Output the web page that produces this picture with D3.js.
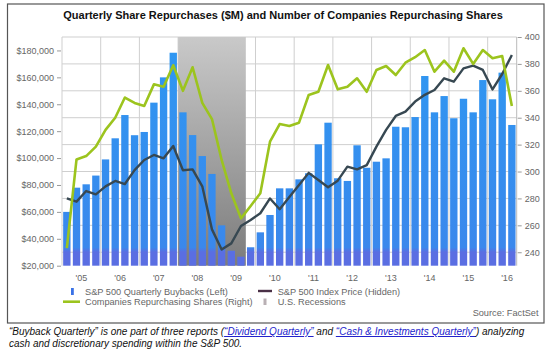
<!DOCTYPE html>
<html>
<head>
<meta charset="utf-8">
<script src="https://cdn.jsdelivr.net/npm/d3@7"></script>
<style>
  body { margin: 0; background: #fff; }
  svg { display: block; font-family: Arial, "Liberation Sans", sans-serif; }
</style>
</head>
<body>
<div id="chart"></div>
<script>
// Quarterly data, Q4 2004 - Q2 2016
const quarters = [
  "Q4 04",
  "Q1 05", "Q2 05", "Q3 05", "Q4 05", "Q1 06", "Q2 06", "Q3 06", "Q4 06",
  "Q1 07", "Q2 07", "Q3 07", "Q4 07", "Q1 08", "Q2 08", "Q3 08", "Q4 08",
  "Q1 09", "Q2 09", "Q3 09", "Q4 09", "Q1 10", "Q2 10", "Q3 10", "Q4 10",
  "Q1 11", "Q2 11", "Q3 11", "Q4 11", "Q1 12", "Q2 12", "Q3 12", "Q4 12",
  "Q1 13", "Q2 13", "Q3 13", "Q4 13", "Q1 14", "Q2 14", "Q3 14", "Q4 14",
  "Q1 15", "Q2 15", "Q3 15", "Q4 15", "Q1 16", "Q2 16"
];

// S&P 500 quarterly buybacks ($M), left axis
const buybacks = [
  60000,
  78000, 80500, 87000, 99000, 114700, 132000, 117000, 119400,
  141200, 160000, 178300, 134000, 117100, 101500, 88200, 50000,
  31100, 26700, 33700, 44800, 57700, 77500, 77500, 84200,
  88700, 110200, 126300, 85000, 83000, 109500, 92800, 97300,
  99800, 123300, 122900, 130500, 161000, 134000, 146100, 129600,
  144100, 134000, 158000, 143700, 163500, 124600
];

// number of companies repurchasing shares, right axis
const companies = [
  243,
  309, 311.5, 318.5, 331, 340, 355, 351, 348.7,
  364.8, 363, 379, 360, 377.5, 351, 339, 308.6,
  283.8, 265.2, 274.4, 283.8, 322.2, 335.3, 333.8, 336.3,
  356.9, 359.3, 379.2, 361.1, 363, 369.3, 359.3, 375.5,
  378.4, 371.7, 380.9, 385, 390.3, 374.2, 382.4, 374.2,
  391.6, 380, 390.3, 384.2, 385.9, 348.7
];

// S&P 500 index price (hidden scale), drawn against the right axis
const indexPrice = [
  280,
  277.6, 285.5, 283, 289, 293, 290.7, 301, 308.6,
  312.3, 309.8, 319, 301, 301.6, 289, 257, 242,
  246.6, 259.5, 264, 269, 280, 272, 281, 290,
  299, 293.7, 288.3, 293.2, 303.6, 301.6, 304.8, 318.5,
  331, 341.3, 344.5, 352, 357, 360.6, 369.3, 366.8,
  376.7, 378.7, 375.5, 361, 372.5, 386.6
];

const yearLabels = ["'05", "'06", "'07", "'08", "'09", "'10", "'11", "'12", "'13", "'14", "'15", "'16"];
const recessions = [{ start: "Q4 07", end: "Q2 09" }];
const leftTicks = [20000, 40000, 60000, 80000, 100000, 120000, 140000, 160000, 180000];
const rightTicks = [240, 260, 280, 300, 320, 340, 360, 380, 400];

const W = 550, H = 351;
const plot = { left: 62, top: 37, right: 516.7, bottom: 265.7 };

const svg = d3.select("#chart").append("svg")
  .attr("width", W)
  .attr("height", H);

const defs = svg.append("defs");

const barGrad = defs.append("linearGradient")
  .attr("id", "barGrad")
  .attr("gradientUnits", "userSpaceOnUse")
  .attr("x1", 0).attr("y1", plot.top).attr("x2", 0).attr("y2", plot.bottom);
barGrad.append("stop").attr("offset", "0%").attr("stop-color", "#2e98f2");
barGrad.append("stop").attr("offset", "92%").attr("stop-color", "#3a88ec");
barGrad.append("stop").attr("offset", "94%").attr("stop-color", "#5a6ee2");
barGrad.append("stop").attr("offset", "100%").attr("stop-color", "#5a6ee2");

const recGrad = defs.append("linearGradient")
  .attr("id", "recGrad")
  .attr("x1", 0).attr("y1", 0).attr("x2", 0).attr("y2", 1);
recGrad.append("stop").attr("offset", "0%").attr("stop-color", "#c9c9c9");
recGrad.append("stop").attr("offset", "100%").attr("stop-color", "#7c7c7c");

// Outer frame
svg.append("rect")
  .attr("x", 7.5).attr("y", 4)
  .attr("width", 536.5).attr("height", 319)
  .attr("fill", "#fff")
  .attr("stroke", "#555")
  .attr("stroke-width", 1.2);

// Title
svg.append("text")
  .attr("x", 283)
  .attr("y", 19)
  .attr("text-anchor", "middle")
  .style("font-size", "11px")
  .style("font-weight", "bold")
  .attr("fill", "#111")
  .text("Quarterly Share Repurchases ($M) and Number of Companies Repurchasing Shares");

// Scales
const x = d3.scaleBand()
  .domain(quarters)
  .range([plot.left, plot.right])
  .paddingInner(0.24)
  .paddingOuter(0.12);

const cellLeft = q => x(q) - x.step() * x.paddingInner() / 2;
const mid = q => x(q) + x.bandwidth() / 2;

const yL = d3.scaleLinear()
  .domain([20000, 190000])
  .range([plot.bottom, plot.top]);

const yR = d3.scaleLinear()
  .domain([230, 400])
  .range([plot.bottom, plot.top]);

// Plot background and grid
svg.append("rect")
  .attr("x", plot.left).attr("y", plot.top)
  .attr("width", plot.right - plot.left)
  .attr("height", plot.bottom - plot.top)
  .attr("fill", "#fff");

svg.append("g")
  .selectAll("line")
  .data(rightTicks)
  .join("line")
  .attr("x1", plot.left).attr("x2", plot.right)
  .attr("y1", d => yR(d)).attr("y2", d => yR(d))
  .attr("stroke", "#cfcfcf")
  .attr("stroke-width", 1);

const yearStarts = quarters.filter((q, i) => i % 4 === 0);

svg.append("g")
  .selectAll("line")
  .data(yearStarts)
  .join("line")
  .attr("x1", d => cellLeft(d)).attr("x2", d => cellLeft(d))
  .attr("y1", plot.top).attr("y2", plot.bottom)
  .attr("stroke", "#cfcfcf")
  .attr("stroke-width", 1);

svg.append("line")
  .attr("x1", plot.right).attr("x2", plot.right)
  .attr("y1", plot.top).attr("y2", plot.bottom)
  .attr("stroke", "#bbb");

// Recessions
svg.append("g")
  .selectAll("rect")
  .data(recessions)
  .join("rect")
  .attr("x", d => cellLeft(d.start))
  .attr("y", plot.top)
  .attr("width", d => cellLeft(d.end) + x.step() - cellLeft(d.start))
  .attr("height", plot.bottom - plot.top)
  .attr("fill", "url(#recGrad)");

// Bars
svg.append("g")
  .selectAll("rect")
  .data(buybacks)
  .join("rect")
  .attr("x", (d, i) => x(quarters[i]))
  .attr("y", d => yL(d))
  .attr("width", x.bandwidth())
  .attr("height", d => plot.bottom - yL(d))
  .attr("fill", "url(#barGrad)");

// Lines
const lineR = d3.line()
  .x((d, i) => mid(quarters[i]))
  .y(d => yR(d));

svg.append("path")
  .datum(indexPrice)
  .attr("d", lineR)
  .attr("fill", "none")
  .attr("stroke", "#374852")
  .attr("stroke-width", 2.4)
  .attr("stroke-linejoin", "round");

svg.append("path")
  .datum(companies)
  .attr("d", lineR)
  .attr("fill", "none")
  .attr("stroke", "#9cc41e")
  .attr("stroke-width", 2.6)
  .attr("stroke-linejoin", "round");

// Axes
const leftAxis = svg.append("g")
  .attr("transform", `translate(${plot.left - 1},0)`)
  .call(d3.axisLeft(yL).tickValues(leftTicks).tickFormat(d3.format("$,")).tickSize(4).tickPadding(3));
leftAxis.select(".domain").remove();

const rightAxis = svg.append("g")
  .attr("transform", `translate(${plot.right + 1},0)`)
  .call(d3.axisRight(yR).tickValues(rightTicks).tickSize(4).tickPadding(3));
rightAxis.select(".domain").remove();

[leftAxis, rightAxis].forEach(a => {
  a.selectAll("text")
    .style("font-size", "9px")
    .style("font-family", "Arial, 'Liberation Sans', sans-serif")
    .attr("fill", "#666");
  a.selectAll(".tick line").attr("stroke", "#999");
});

svg.append("g")
  .selectAll("text")
  .data(yearLabels)
  .join("text")
  .attr("x", (d, i) => cellLeft(quarters[i * 4]) + x.step() * 2)
  .attr("y", 281)
  .attr("text-anchor", "middle")
  .style("font-size", "9px")
  .attr("fill", "#666")
  .text(d => d);

// Legend
const legend = svg.append("g").style("font-size", "9.2px").attr("fill", "#666");

legend.append("rect")
  .attr("x", 71).attr("y", 288)
  .attr("width", 2.8).attr("height", 7)
  .attr("fill", "#3a72e6");
legend.append("text").attr("x", 85).attr("y", 294.5).text("S&P 500 Quarterly Buybacks (Left)");

legend.append("line")
  .attr("x1", 63).attr("x2", 80).attr("y1", 301.7).attr("y2", 301.7)
  .attr("stroke", "#9cc41e").attr("stroke-width", 2.6);
legend.append("text").attr("x", 85).attr("y", 305).text("Companies Repurchasing Shares (Right)");

legend.append("line")
  .attr("x1", 258).attr("x2", 272).attr("y1", 291).attr("y2", 291)
  .attr("stroke", "#4a3046").attr("stroke-width", 2.4);
legend.append("text").attr("x", 277.7).attr("y", 294.5).text("S&P 500 Index Price (Hidden)");

legend.append("rect")
  .attr("x", 263.5).attr("y", 298.5)
  .attr("width", 3).attr("height", 6.5)
  .attr("fill", "#b9b0b4");
legend.append("text").attr("x", 277.7).attr("y", 305).text("U.S. Recessions");

svg.append("text")
  .attr("x", 538.5).attr("y", 316)
  .attr("text-anchor", "end")
  .style("font-size", "9.2px")
  .attr("fill", "#666")
  .text("Source: FactSet");

// Footnote
const note = svg.append("text")
  .attr("x", 9).attr("y", 335)
  .style("font-size", "10px")
  .style("font-style", "italic")
  .attr("fill", "#111");
note.append("tspan").text("“Buyback Quarterly” is one part of three reports (");
note.append("tspan").attr("fill", "#2222cc").style("text-decoration", "underline").text("“Dividend Quarterly”");
note.append("tspan").text(" and ");
note.append("tspan").attr("fill", "#2222cc").style("text-decoration", "underline").text("“Cash & Investments Quarterly”");
note.append("tspan").text(") analyzing");

svg.append("text")
  .attr("x", 9).attr("y", 346.5)
  .style("font-size", "10px")
  .style("font-style", "italic")
  .attr("fill", "#111")
  .text("cash and discretionary spending within the S&P 500.");
</script>
</body>
</html>
